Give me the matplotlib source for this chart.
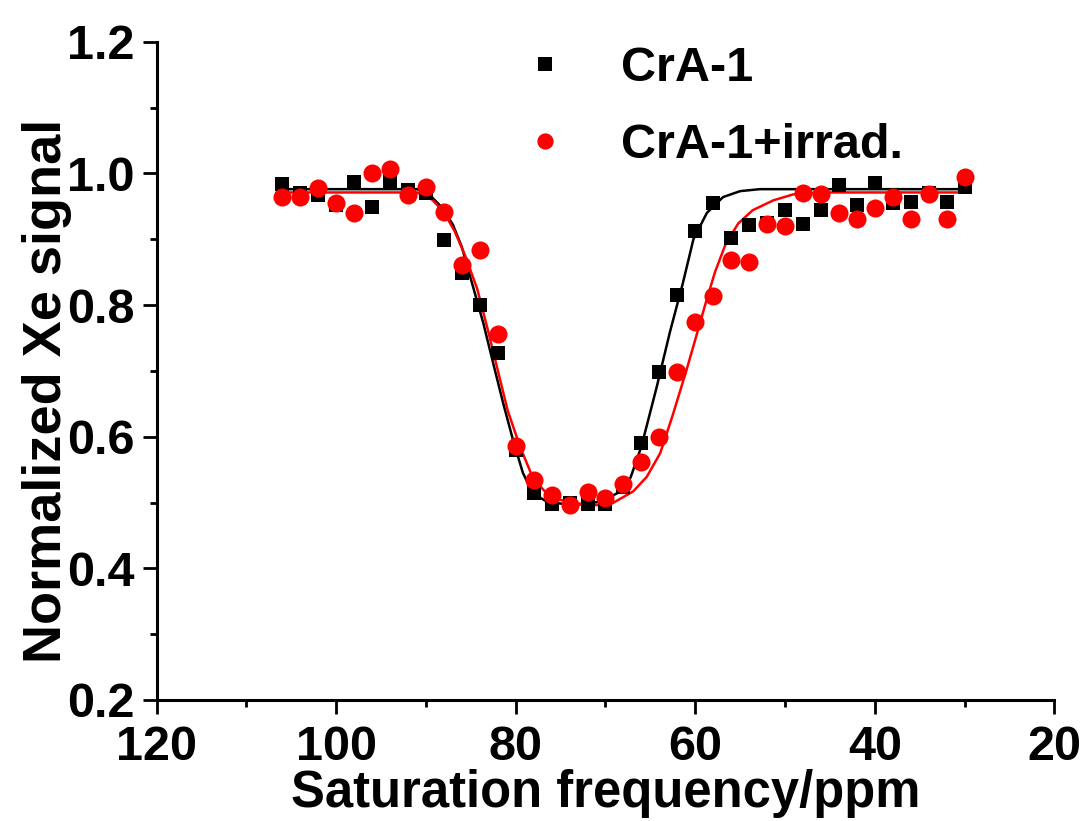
import numpy as np
import matplotlib
matplotlib.use("Agg")
import matplotlib.pyplot as plt
from matplotlib.ticker import MultipleLocator, FormatStrFormatter

plt.rcParams['font.family'] = ['Liberation Sans', 'DejaVu Sans']
plt.rcParams['font.weight'] = 'bold'

# measured points (ppm, normalized signal)
freq = [106, 104, 102, 100, 98, 96, 94, 92, 90, 88, 86, 84, 82, 80, 78, 76, 74, 72, 70, 68,
        66, 64, 62, 60, 58, 56, 54, 52, 50, 48, 46, 44, 42, 40, 38, 36, 34, 32, 30]
crA1 = [0.984, 0.970, 0.967, 0.952, 0.987, 0.949, 0.988, 0.975, 0.970, 0.899,
        0.848, 0.800, 0.727, 0.579, 0.514, 0.498, 0.500, 0.498, 0.498, 0.524,
        0.590, 0.698, 0.815, 0.912, 0.955, 0.902, 0.921, 0.925, 0.944, 0.923,
        0.944, 0.982, 0.952, 0.985, 0.955, 0.956, 0.970, 0.956, 0.979]
crA1_irr = [0.964, 0.964, 0.978, 0.955, 0.940, 1.000, 1.007, 0.967, 0.979, 0.941,
            0.861, 0.883, 0.756, 0.586, 0.534, 0.511, 0.496, 0.516, 0.507, 0.528,
            0.561, 0.599, 0.698, 0.774, 0.814, 0.868, 0.865, 0.923, 0.920, 0.970,
            0.969, 0.940, 0.931, 0.947, 0.964, 0.931, 0.969, 0.931, 0.994]

# fitted curves
fit1_x = [106, 91, 89.5, 88.2, 87.0, 86.0, 84.8, 83.6, 82.5, 81.4, 80.3, 79.2, 78.1, 76.5,
          73.6, 70.6, 68.7, 67.2, 66.0, 64.3, 62.8, 61.4, 60.2, 58.7, 56.9, 55.0, 52.8, 30]
fit1_y = [0.976, 0.976, 0.966, 0.948, 0.922, 0.888, 0.830, 0.772, 0.711, 0.651, 0.595,
          0.545, 0.514, 0.501, 0.496, 0.501, 0.514, 0.538, 0.585, 0.675, 0.760, 0.832,
          0.900, 0.940, 0.964, 0.973, 0.976, 0.976]
fit2_x = [106, 91, 89.3, 88.0, 86.8, 85.6, 84.3, 83.1, 82.0, 80.9, 79.5, 78.1, 76.2, 73.6,
          71.0, 69.2, 66.9, 65.4, 63.9, 62.5, 61.0, 59.9, 58.9, 57.8, 56.6, 55.2, 53.6,
          51.3, 49.1, 46, 30]
fit2_y = [0.971, 0.971, 0.960, 0.941, 0.912, 0.874, 0.825, 0.762, 0.701, 0.640, 0.584,
          0.538, 0.508, 0.499, 0.496, 0.499, 0.517, 0.539, 0.575, 0.633, 0.700, 0.752,
          0.800, 0.850, 0.893, 0.924, 0.944, 0.959, 0.968, 0.971, 0.971]

fig = plt.figure(figsize=(10.88, 8.21), dpi=100)
ax = fig.add_axes([0.144, 0.1474, 0.825, 0.8018])

ax.plot(fit1_x, fit1_y, '-', color='black', lw=1.8)
ax.plot(fit2_x, fit2_y, '-', color='red', lw=1.8)
ax.plot(freq, crA1, 's', color='black', ms=10.5, mew=0, label='CrA-1')
ax.plot(freq, crA1_irr, 'o', color='red', ms=13, mew=0, label='CrA-1+irrad.')

ax.set_xlim(120, 20)
ax.set_ylim(0.2, 1.2)
ax.xaxis.set_major_locator(MultipleLocator(20))
ax.xaxis.set_minor_locator(MultipleLocator(10))
ax.yaxis.set_major_locator(MultipleLocator(0.2))
ax.yaxis.set_minor_locator(MultipleLocator(0.1))
ax.yaxis.set_major_formatter(FormatStrFormatter('%.1f'))

for s in ['top', 'right']:
    ax.spines[s].set_visible(False)
for s in ['left', 'bottom']:
    ax.spines[s].set_linewidth(2.2)

ax.tick_params(which='major', direction='out', length=10, width=2, labelsize=35)
ax.tick_params(axis='y', which='major', pad=6)
ax.tick_params(axis='x', which='major', pad=8)
ax.tick_params(which='minor', direction='out', length=5, width=2)

ax.set_xlabel('Saturation frequency/ppm', fontsize=36.5, fontweight='bold', labelpad=-1)
ax.set_ylabel('Normalized Xe signal', fontsize=39, fontweight='bold')
ax.yaxis.set_label_coords(-0.094, 0.47)

ax.legend(loc='upper left', bbox_to_anchor=(0.33, 1.06), frameon=False, fontsize=35,
          handletextpad=0.55, labelspacing=0.65, markerscale=0.9)

fig.savefig('out.png', dpi=100)
